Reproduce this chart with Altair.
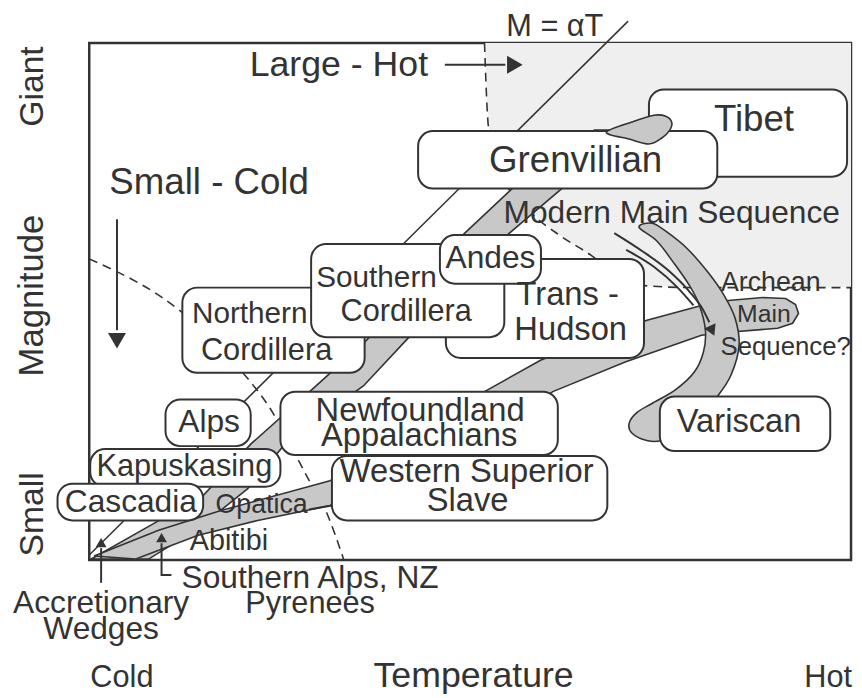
import altair as alt
import pandas as pd

# Schematic coordinates: T (temperature, arbitrary units 0..769), M (magnitude, 0..522)
T_DOMAIN = [0, 769]
M_DOMAIN = [0, 522]
FONT = "Liberation Sans"
INK = "#333333"

# ---- rounded boxes (z-order: first drawn first) ----
box_names = ["Trans-Hudson", "Northern Cordillera", "Southern Cordillera", "Andes",
             "Grenvillian", "Alps", "Kapuskasing", "Cascadia",
             "Newfoundland Appalachians", "Western Superior Slave", "Variscan"]
box_t1 = [360, 94, 224, 354, 332, 77, 1, -32, 193, 245, 576]
box_t2 = [560, 278, 419, 456, 634, 163, 193, 115, 473, 523, 748]
box_mtop = [304, 275, 319, 328, 433, 162, 112, 77, 170, 105, 165]
box_mbot = [204, 189, 225, 279, 375, 115, 74, 40, 106, 40, 110]

tibet_t1, tibet_t2, tibet_mtop, tibet_mbot = [565], [765], [475], [387]

# ---- shaded "large - hot" field ----
shade_t = [399, 403, 415, 440, 476, 500, 530, 560, 610, 769, 769]
shade_m = [522, 437, 392, 357, 327, 312, 292, 277, 275, 275, 522]

# ---- dashed field boundaries ----
hot_t = [399, 403, 415, 440, 476, 500, 530, 560, 610, 769]
hot_m = [522, 437, 392, 357, 327, 312, 292, 277, 275, 275]
cold_t = [0, 40, 75, 115, 155, 180, 200, 220, 240, 257]
cold_m = [304, 285, 264, 232, 189, 157, 122, 84, 47, 0]

# ---- M = alpha T line ----
mline_t = [0, 544]
mline_m = [5, 544]

# ---- grey bands ----
modern_t = [2, 60, 115, 163, 227, 280, 378, 427, 470, 510,
            550, 510, 477, 423, 320, 277, 200, 160, 110, 60]
modern_m = [1, 34, 65, 117, 174, 222, 329, 375, 412, 434,
            434, 407, 375, 329, 222, 176, 120, 72, 32, 1]
archean_t = [5, 70, 133, 243, 330, 399, 456, 563, 618, 645, 680, 703, 713, 716, 710, 695,
             645, 618, 541, 468, 380, 243, 170, 110, 47]
archean_m = [4, 30, 50, 80, 122, 170, 202, 242, 257, 262, 265, 264, 258, 249, 239, 234,
             230, 227, 200, 170, 112, 55, 40, 25, 1]
variscan_t = [555, 573, 590, 606, 616, 622, 620, 611, 592, 568, 553, 545, 548, 562, 578,
              610, 634, 648, 656, 652, 641, 625, 603, 582, 568]
variscan_m = [336, 322, 300, 277, 257, 232, 210, 190, 172, 158, 149, 138, 128, 121, 121,
              137, 165, 187, 217, 244, 267, 290, 315, 332, 340]
tibet_tail_t = [522, 550, 570, 582, 588, 586, 578, 565, 545]
tibet_tail_m = [432, 443, 449, 448, 442, 434, 426, 420, 425]

# ---- arrow shafts / leader lines ----
seg_id = [1, 1, 2, 2, 3, 3, 4, 4, 4, 5, 5, 5, 5, 5, 5, 6, 6, 6, 6, 7, 7]
seg_t = [359, 420, 28, 28, 12, 12, 83, 73, 73, 530, 558, 585, 605, 620, 626, 542, 570, 594, 610, 222, 245]
seg_m = [500, 500, 344, 232, -23, 12, -15, -15, 17, 330, 312, 292, 272, 252, 240, 313, 296, 275, 257, 51, 55]

head_t = [427, 28, 12, 73, 628]
head_m = [500, 224, 16, 21, 233]
head_angle = [90, 180, 0, 0, 156]
head_size = [330, 330, 120, 120, 160]

# ---- labels ----
lab_text = ["Tibet", "Grenvillian", "Modern Main Sequence", "Andes", "Southern", "Cordillera",
            "Trans -", "Hudson", "Northern", "Cordillera", "Alps", "Kapuskasing", "Cascadia",
            "Newfoundland", "Appalachians", "Western Superior", "Slave", "Variscan",
            "Archean", "Main", "Sequence?", "Opatica", "Abitibi", "Large - Hot", "Small - Cold",
            "M = \u03b1T", "Southern Alps, NZ", "Pyrenees", "Accretionary", "Wedges",
            "Cold", "Temperature", "Hot"]
lab_t = [671, 491, 588, 405, 290, 320, 483, 486, 162, 179, 121, 96, 42,
         334, 333, 381, 382, 656, 688, 681, 703, 174, 141, 252, 121,
         470, 223, 223, 12, 12, 33, 388, 746]
lab_m = [433, 392, 340, 295, 276, 241, 257, 222, 239, 202, 129, 85, 49,
         140, 115, 79, 50, 129, 272, 240, 207, 47, 10, 489, 370,
         529, -28, -53, -53, -80, -128, -128, -128]
lab_size = [37, 37, 32, 32, 30, 31, 33, 33, 30, 31, 32, 31, 32,
            33, 33, 33, 33, 33, 27, 25, 26, 27, 29, 36, 37,
            31, 32, 31, 32, 32, 31, 36, 31]

rot_text = ["Giant", "Magnitude", "Small"]
rot_t = [-47, -47, -47]
rot_m = [478, 267, 46]
rot_size = [34, 35, 34]

xs = alt.Scale(domain=T_DOMAIN, nice=False, zero=False)
ys = alt.Scale(domain=M_DOMAIN, nice=False, zero=False)


def X(f="t"):
    return alt.X(f"{f}:Q", scale=xs, axis=None)


def Y(f="m"):
    return alt.Y(f"{f}:Q", scale=ys, axis=None)


def polygon(t, m, fill, stroke, sw, interp="linear-closed"):
    df = pd.DataFrame({"t": t, "m": m, "i": list(range(len(t)))})
    return alt.Chart(df).mark_line(fill=fill, stroke=stroke, strokeWidth=sw,
                                   interpolate=interp).encode(x=X(), y=Y(), order="i:Q")


def path(t, m, dash=None, interp="linear", sw=1.6):
    df = pd.DataFrame({"t": t, "m": m, "i": list(range(len(t)))})
    kw = dict(color=INK, strokeWidth=sw, interpolate=interp)
    if dash:
        kw["strokeDash"] = dash
    return alt.Chart(df).mark_line(**kw).encode(x=X(), y=Y(), order="i:Q")


def boxes(t1, t2, mt, mb):
    df = pd.DataFrame({"t1": t1, "t2": t2, "mt": mt, "mb": mb})
    return alt.Chart(df).mark_rect(fill="white", stroke=INK, strokeWidth=2,
                                   cornerRadius=15).encode(
        x=X("t1"), x2="t2:Q", y=Y("mt"), y2="mb:Q")


shade = polygon(shade_t, shade_m, "#efefef", "#efefef", 0)
hot_line = path(hot_t, hot_m, dash=[9, 6], interp="monotone")
cold_line = path(cold_t, cold_m, dash=[9, 6], interp="cardinal")
m_line = path(mline_t, mline_m, sw=1.5)

tibet_box = boxes(tibet_t1, tibet_t2, tibet_mtop, tibet_mbot)

modern = polygon(modern_t, modern_m, "#c8c8c8", INK, 1.6)
archean = polygon(archean_t, archean_m, "#c8c8c8", INK, 1.6)
variscan = polygon(variscan_t, variscan_m, "#c8c8c8", INK, 1.6, "cardinal-closed")
tail = polygon(tibet_tail_t, tibet_tail_m, "#c8c8c8", INK, 1.6, "cardinal-closed")

front_boxes = boxes(box_t1, box_t2, box_mtop, box_mbot)

segs = alt.Chart(pd.DataFrame({"id": seg_id, "t": seg_t, "m": seg_m,
                               "i": list(range(len(seg_t)))})).mark_line(
    color=INK, strokeWidth=2, interpolate="monotone").encode(
    x=X(), y=Y(), detail="id:N", order="i:Q")

heads = alt.Chart(pd.DataFrame({"t": head_t, "m": head_m, "a": head_angle,
                                "s": head_size})).mark_point(
    shape="triangle", filled=True, color=INK, opacity=1).encode(
    x=X(), y=Y(), angle=alt.Angle("a:Q", scale=None),
    size=alt.Size("s:Q", scale=None, legend=None))

labels = alt.Chart(pd.DataFrame({"label": lab_text, "t": lab_t, "m": lab_m,
                                 "fs": lab_size})).mark_text(
    font=FONT, color=INK, align="center", baseline="alphabetic").encode(
    x=X(), y=Y(), text="label:N", size=alt.Size("fs:Q", scale=None, legend=None))

rot_labels = alt.Chart(pd.DataFrame({"label": rot_text, "t": rot_t, "m": rot_m,
                                     "fs": rot_size})).mark_text(
    font=FONT, color=INK, align="center", baseline="alphabetic", angle=270).encode(
    x=X(), y=Y(), text="label:N", size=alt.Size("fs:Q", scale=None, legend=None))

chart = alt.layer(
    shade, hot_line, cold_line, m_line, tibet_box,
    modern, archean, variscan, front_boxes, tail,
    segs, heads, labels, rot_labels
).properties(
    width=769, height=522,
    autosize=alt.AutoSizeParams(type="none"),
    padding={"left": 82, "top": 32, "right": 3, "bottom": 136},
    background="white",
).configure_view(stroke=INK, strokeWidth=2.5)

chart.save("out.html", embed_options={"renderer": "svg", "actions": False})
